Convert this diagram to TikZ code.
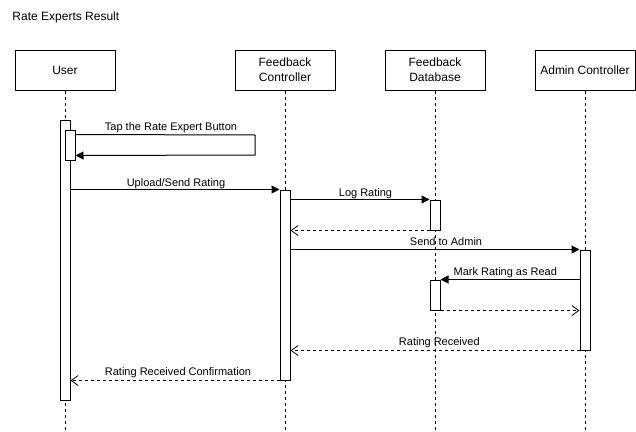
\documentclass[tikz,border=0pt]{standalone}
\usepackage{fontspec}
\setmainfont{Liberation Sans}
\usetikzlibrary{arrows.meta}
\begin{document}
\begin{tikzpicture}[x=1pt,y=-1pt,line width=1pt,
  header/.style={draw,fill=white,minimum width=100pt,minimum height=40pt,inner sep=0pt,align=center,font=\fontsize{12}{15}\selectfont},
  life/.style={line width=1pt,dash pattern=on 3pt off 3pt},
  act/.style={draw,fill=white,minimum width=10pt,inner sep=0pt},
  msg/.style={-{Triangle[length=8pt,width=8pt]}},
  ret/.style={dash pattern=on 3pt off 3pt,-{Straight Barb[length=7pt,width=10pt,line width=0.8pt]}},
  lbl/.style={anchor=base,inner sep=0pt,font=\fontsize{11}{13}\selectfont}]
\useasboundingbox (0,0) rectangle (636,431);
\node[anchor=base west,inner sep=0pt,font=\fontsize{12}{15}\selectfont] (title) at (12,20.5) {Rate Experts Result};
% headers
\node[header] (user) at (65,70) {User};
\node[header] (fc) at (285,70) {Feedback\\Controller};
\node[header] (fd) at (435,70) {Feedback\\Database};
\node[header] (ac) at (585,70) {Admin Controller};
% lifeline ends
\coordinate (userE) at (65,431);
\coordinate (fcE) at (285,431);
\coordinate (fdE) at (435,431);
\coordinate (acE) at (585,431);
\draw[life] (user.south) -- (userE);
\draw[life] (fc.south) -- (fcE);
\draw[life] (fd.south) -- (fdE);
\draw[life] (ac.south) -- (acE);
% activations
\node[act,minimum height=280pt] (ua) at (65,260) {};
\node[act,minimum height=30pt] (uin) at (70,145) {};
\node[act,minimum height=190pt] (fca) at (285,285) {};
\node[act,minimum height=30pt] (fd1) at (435,215) {};
\node[act,minimum height=100pt] (aca) at (585,300) {};
\node[act,minimum height=30pt] (fd2) at (435,295) {};
% self message
\coordinate (loopA) at (255,135);
\coordinate (loopB) at (255,155);
\draw[msg] ([yshift=-5pt]uin.north east) -- (loopA) -- (loopB) -- ([yshift=5pt]uin.south east);
\node[lbl] (l1) at (171,130.5) {Tap the Rate Expert Button};
% messages
\draw[msg] (ua.east |- fca.north) -- (fca.north west);
\node[lbl] (l2) at (176,186) {Upload/Send Rating};
\draw[msg] (fca.east |- fd1.north) -- (fd1.north west);
\node[lbl] (l3) at (365.5,196) {Log Rating};
\draw[ret] (fd1.south west) -- (fca.east |- fd1.south);
\draw[msg] (fca.east |- aca.north) -- (aca.north west);
\node[lbl] (l4) at (446,245) {Send to Admin};
\draw[msg] (aca.west |- fd2.north) -- (fd2.north east);
\node[lbl] (l5) at (505.3,275) {Mark Rating as Read};
\draw[ret] (fd2.south east) -- (aca.west |- fd2.south);
\draw[ret] (aca.south west) -- (fca.east |- aca.south);
\node[lbl] (l6) at (439.3,345.5) {Rating Received};
\draw[ret] (fca.south west) -- (ua.east |- fca.south);
\node[lbl] (l7) at (178,375.5) {Rating Received Confirmation};
\end{tikzpicture}
\end{document}
